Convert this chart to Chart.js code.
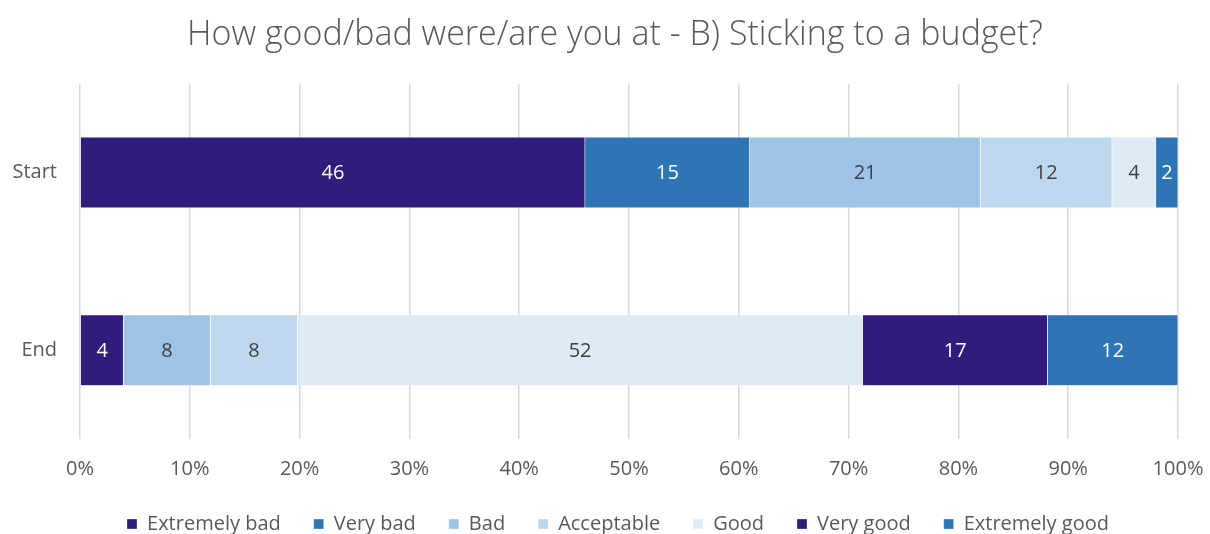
<!DOCTYPE html>
<html>
<head>
<meta charset="utf-8">
<script src="https://cdn.jsdelivr.net/npm/chart.js@4.4.1/dist/chart.umd.min.js"></script>
<style>
  html, body { margin: 0; padding: 0; background: #ffffff; }
  #wrap { width: 1210px; height: 534px; }
</style>
</head>
<body>
<div id="wrap"><canvas id="chart" width="1210" height="534"></canvas></div>
<script>
// Survey responses (counts) per stage
const categories = ['Start', 'End'];
const seriesNames = ['Extremely bad', 'Very bad', 'Bad', 'Acceptable', 'Good', 'Very good', 'Extremely good'];
const extremelyBad = [46, 4];
const veryBad = [15, 0];
const bad = [21, 8];
const acceptable = [12, 8];
const good = [4, 52];
const veryGood = [0, 17];
const extremelyGood = [2, 12];
const xTickValues = [0, 10, 20, 30, 40, 50, 60, 70, 80, 90, 100];

const seriesCounts = [extremelyBad, veryBad, bad, acceptable, good, veryGood, extremelyGood];
const seriesColors = ['#321c7b', '#2e75b6', '#9dc3e6', '#bdd7ee', '#deebf7', '#321c7b', '#2e75b6'];
const labelColors = ['#ffffff', '#ffffff', '#404040', '#404040', '#404040', '#ffffff', '#ffffff'];

const FONT = "'Open Sans', 'Noto Sans', sans-serif";
const GREY = '#595959';
const LEFT_PAD = 4;
const RIGHT_PAD = 32;

// Totals per category so each bar is stacked to 100%
const totals = categories.map((_, i) => seriesCounts.reduce((s, arr) => s + arr[i], 0));

const datasets = seriesNames.map((name, k) => ({
  label: name,
  data: seriesCounts[k].map((v, i) => v / totals[i] * 100),
  counts: seriesCounts[k],
  backgroundColor: seriesColors[k],
  borderColor: 'rgba(255,255,255,0.6)',
  borderWidth: 0.5,
  labelColor: labelColors[k],
  categoryPercentage: 1.0,
  barPercentage: 0.4
}));

// Writes each segment's count in its middle
const segmentLabels = {
  id: 'segmentLabels',
  afterDatasetsDraw(chart) {
    const ctx = chart.ctx;
    ctx.save();
    ctx.font = '20px ' + FONT;
    ctx.textAlign = 'center';
    ctx.textBaseline = 'middle';
    chart.data.datasets.forEach((ds, k) => {
      const meta = chart.getDatasetMeta(k);
      if (meta.hidden) return;
      meta.data.forEach((el, i) => {
        const c = ds.counts[i];
        if (!c) return;
        ctx.fillStyle = ds.labelColor;
        ctx.fillText(String(c), (el.x + el.base) / 2, el.y + 1);
      });
    });
    ctx.restore();
  }
};

// Centre the title and legend a little to the right of the full-width box
const centreBlocks = {
  id: 'centreBlocks',
  afterLayout(chart) {
    const move = (box, dx) => { if (box) { box.left += dx; box.right += dx; } };
    move(chart.titleBlock, 24);
    move(chart.legend, 27);
  }
};

new Chart(document.getElementById('chart'), {
  type: 'bar',
  data: { labels: categories, datasets },
  plugins: [segmentLabels, centreBlocks],
  options: {
    indexAxis: 'y',
    responsive: false,
    animation: false,
    layout: { padding: { left: LEFT_PAD, right: RIGHT_PAD, top: 10, bottom: -10 } },
    plugins: {
      title: {
        display: true,
        text: 'How good/bad were/are you at - B) Sticking to a budget?',
        color: GREY,
        font: { family: FONT, size: 34, weight: 300 },
        padding: { top: 5, bottom: 28 }
      },
      legend: {
        position: 'bottom',
        labels: {
          color: GREY,
          font: { family: FONT, size: 20 },
          boxWidth: 10,
          boxHeight: 10,
          padding: 33
        }
      },
      tooltip: { enabled: false }
    },
    scales: {
      x: {
        stacked: true,
        min: 0,
        max: 100,
        afterBuildTicks(scale) { scale.ticks = xTickValues.map(v => ({ value: v })); },
        afterFit(scale) {
          scale.height = 42;
          scale.paddingLeft = 0;
          scale.paddingRight = 0;
        },
        ticks: {
          color: GREY,
          font: { family: FONT, size: 20 },
          padding: 18,
          maxRotation: 0,
          callback: v => v + '%'
        },
        grid: { color: '#d9d9d9', lineWidth: 1.5, drawTicks: false },
        border: { display: false }
      },
      y: {
        stacked: true,
        afterFit(scale) { scale.width = 80 - LEFT_PAD; },
        ticks: {
          color: GREY,
          font: { family: FONT, size: 20 },
          padding: 23
        },
        grid: { display: false, drawTicks: false },
        border: { display: false }
      }
    }
  }
});
</script>
</body>
</html>
